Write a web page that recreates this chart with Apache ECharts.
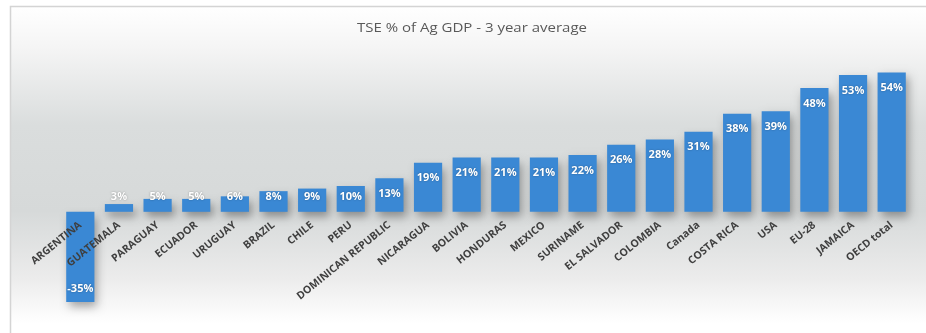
<!DOCTYPE html>
<html>
<head>
<meta charset="utf-8">
<script src="https://cdn.jsdelivr.net/npm/echarts@6/dist/echarts.min.js"></script>
<style>
  html, body { margin: 0; padding: 0; background: #ffffff; }
  #chart { width: 926px; height: 333px; }
</style>
</head>
<body>
<div id="chart"></div>
<script>
// Total support estimate as a share of agricultural GDP (3-year average)
const categories = [
  'ARGENTINA', 'GUATEMALA', 'PARAGUAY', 'ECUADOR', 'URUGUAY', 'BRAZIL',
  'CHILE', 'PERU', 'DOMINICAN REPUBLIC', 'NICARAGUA', 'BOLIVIA', 'HONDURAS',
  'MEXICO', 'SURINAME', 'EL SALVADOR', 'COLOMBIA', 'Canada', 'COSTA RICA',
  'USA', 'EU-28', 'JAMAICA', 'OECD total'
];
const tsePct = [-35, 3, 5, 5, 6, 8, 9, 10, 13, 19, 21, 21, 21, 22, 26, 28, 31, 38, 39, 48, 53, 54];
const titleText = 'TSE % of Ag GDP - 3 year average';

const fontFamily = '"Open Sans", Lato, sans-serif';

// Value range of the hidden y axis and the plot box it spans
const yMin = -40;
const yMax = 60;
const gridTop = 57;
const gridBottom = 18;
const chartHeight = 333;

// Value labels sit inside the bar end; short bars keep their label near the baseline
function labelFor(v) {
  if (v < 0) return { position: 'insideBottom', distance: 8 };
  if (v < 12) return { position: 'insideBottom', distance: 9 };
  return { position: 'insideTop', distance: 10 };
}

// Category labels hang from the zero line: shift the x axis up from the grid bottom
const plotHeight = chartHeight - gridTop - gridBottom;
const zeroShift = plotHeight * (0 - yMin) / (yMax - yMin);

const chart = echarts.init(document.getElementById('chart'), null, { renderer: 'canvas' });

chart.setOption({
  animation: false,
  graphic: [{
    type: 'rect',
    z: -10,
    silent: true,
    shape: { x: 10.5, y: 6.5, width: 930, height: 340 },
    style: {
      fill: new echarts.graphic.LinearGradient(0, 0, 0, 1, [
        { offset: 0, color: '#ffffff' },
        { offset: 0.12, color: '#f5f5f5' },
        { offset: 0.35, color: '#dadddd' },
        { offset: 0.6, color: '#d6d9d9' },
        { offset: 0.8, color: '#ececec' },
        { offset: 0.93, color: '#ffffff' },
        { offset: 1, color: '#ffffff' }
      ]),
      stroke: '#d4d4d4',
      lineWidth: 1.5
    }
  }, {
    // Chart title, drawn slightly widened
    type: 'text',
    silent: true,
    x: 472,
    y: 28,
    scaleX: 1.2,
    style: {
      text: titleText,
      x: 0,
      y: 0,
      align: 'center',
      verticalAlign: 'middle',
      font: '12.5px ' + fontFamily,
      fill: '#595959'
    }
  }],
  grid: { left: 61, right: 15, top: gridTop, bottom: gridBottom, containLabel: false, outerBoundsMode: 'none' },
  xAxis: {
    type: 'category',
    data: categories,
    position: 'bottom',
    offset: -zeroShift,
    axisLine: { show: false, onZero: false },
    axisTick: { show: false },
    axisLabel: {
      interval: 0,
      rotate: 39,
      margin: 12,
      fontFamily,
      fontSize: 10.5,
      fontWeight: 'bold',
      color: '#3f3f3f'
    },
    z: 10
  },
  yAxis: {
    type: 'value',
    min: yMin,
    max: yMax,
    show: false,
    splitLine: { show: false }
  },
  series: [{
    type: 'bar',
    barCategoryGap: '27%',
    data: tsePct.map(v => ({ value: v, label: labelFor(v) })),
    itemStyle: {
      color: '#3a88d4',
      shadowColor: 'rgba(0,0,0,0.35)',
      shadowBlur: 9,
      shadowOffsetX: 3,
      shadowOffsetY: 5
    },
    label: {
      show: true,
      formatter: p => p.value + '%',
      fontFamily,
      fontSize: 11,
      fontWeight: 'bold',
      color: '#ffffff',
      textShadowColor: 'rgba(0,0,0,0.35)',
      textShadowBlur: 2
    }
  }]
});
</script>
</body>
</html>
